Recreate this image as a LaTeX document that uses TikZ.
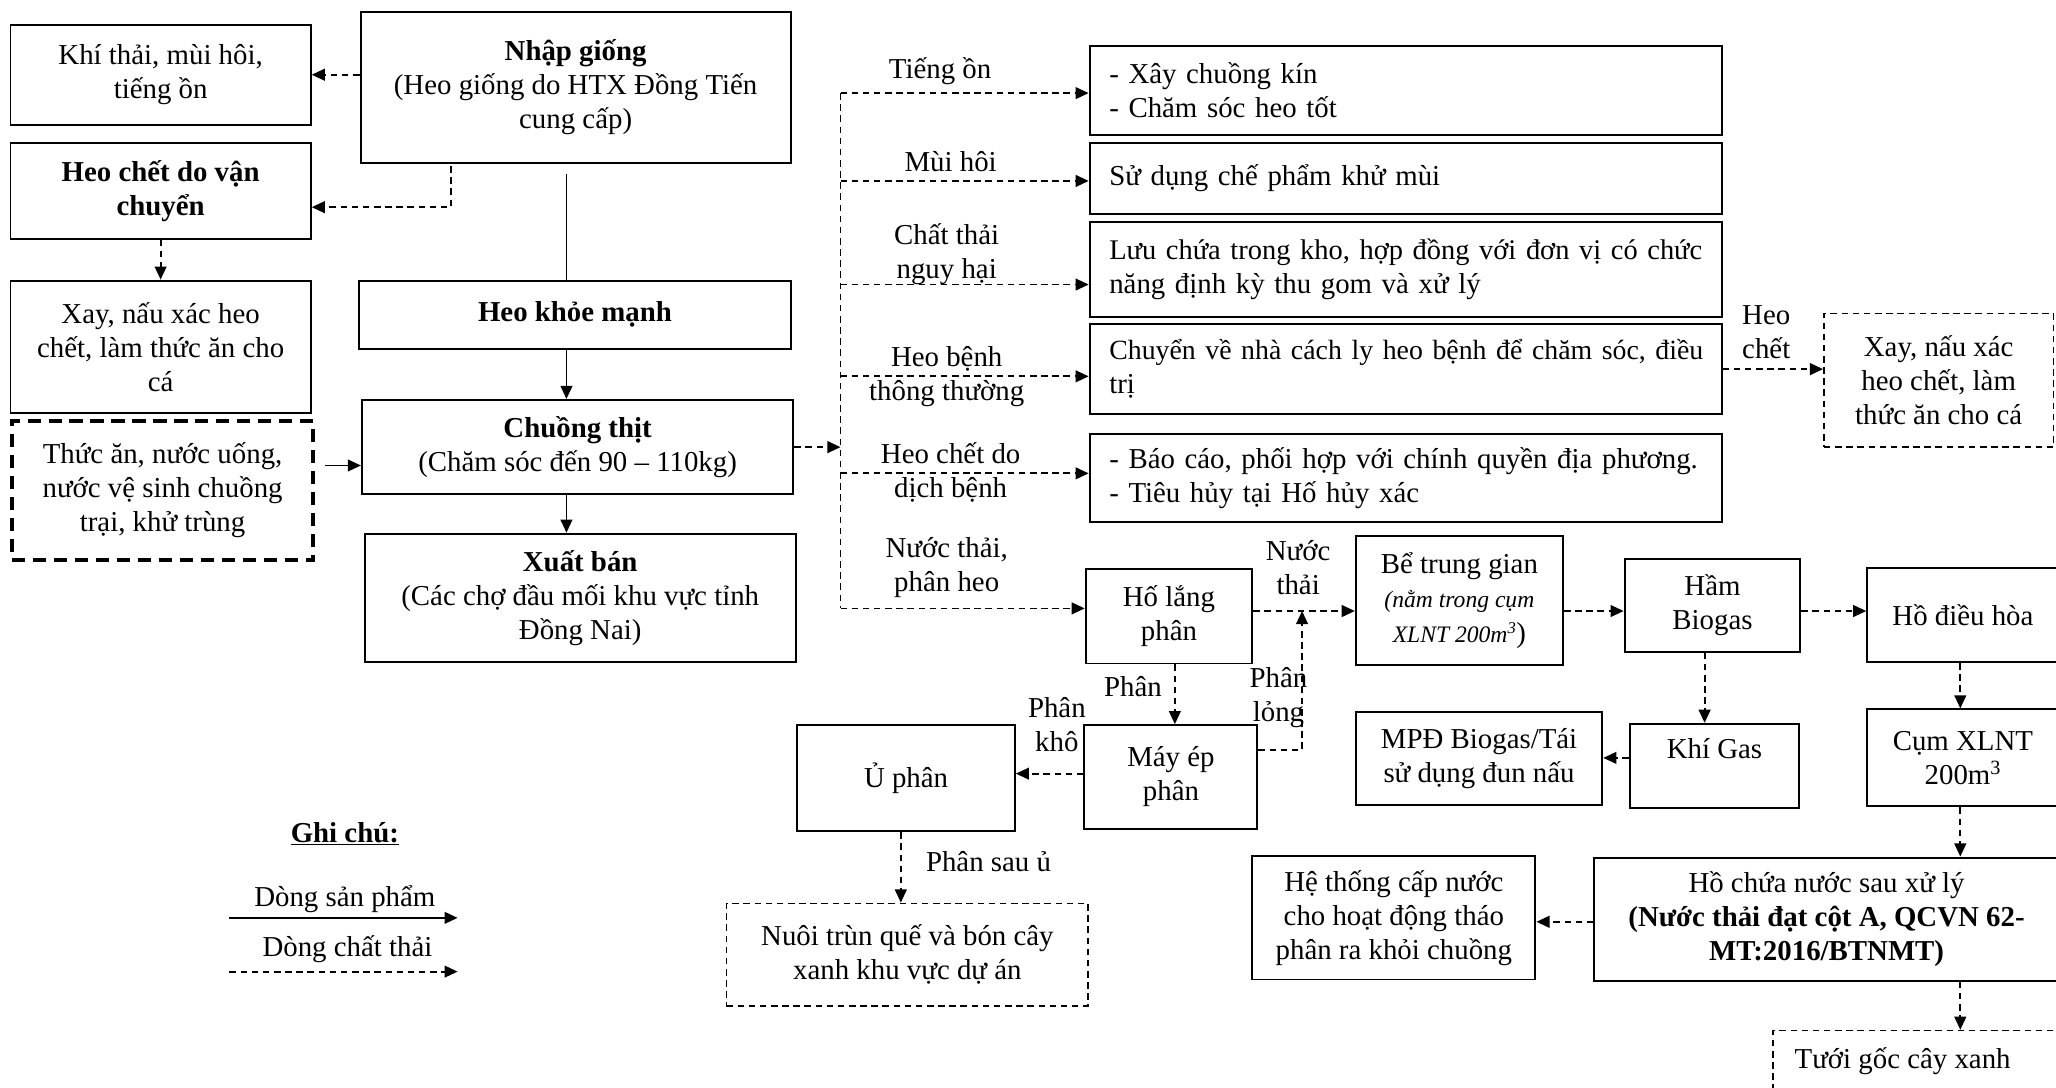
\documentclass[tikz,border=0pt]{standalone}
\usepackage{fontspec}
\setmainfont{Liberation Serif}
\usetikzlibrary{arrows.meta}
\newcommand\fsz{\fontsize{22}{26}\selectfont}
\newcommand\fsm{\fontsize{18}{26}\selectfont}
\tikzset{
  box/.style={draw, line width=1.5pt, inner sep=0pt, align=center, font=\fsz},
  lbox/.style={box, align=left, text width=452pt, inner xsep=15pt},
  dbox/.style={box, line width=1.3pt, dash pattern=on 5pt off 3.5pt},
  tdbox/.style={box, line width=3pt, dash pattern=on 10pt off 6pt},
  conn/.style={line width=1.35pt},
  prod/.style={conn, -{Triangle[length=10pt,width=9pt]}},
  waste/.style={prod, dash pattern=on 5pt off 3.5pt},
  wline/.style={conn, dash pattern=on 5pt off 3.5pt},
  lbl/.style={align=center, inner sep=0pt, font=\fsz},
}
\begin{document}
\begin{tikzpicture}[x=1pt,y=-1pt]
\useasboundingbox (0,0) rectangle (1568,829);
\clip (0,0) rectangle (1568,829);
\fill[white] (0,0) rectangle (1568,829);

% left column
\node[box, minimum width=229pt, minimum height=76pt] (k1) at (122.5,57) {Khí thải, mùi hôi,\\tiếng ồn};
\node[box, minimum width=229pt, minimum height=73pt, font=\fsz\bfseries] (k2) at (122.5,145.5) {Heo chết do vận\\chuyển};
\node[box, minimum width=229pt, minimum height=101pt] (k3) at (122.5,264.5) {Xay, nấu xác heo\\chết, làm thức ăn cho\\cá};
\node[tdbox, minimum width=230pt, minimum height=106pt] (k4) at (124,374) {Thức ăn, nước uống,\\nước vệ sinh chuồng\\trại, khử trùng};

% middle column
\node[box, minimum width=328pt, minimum height=114.5pt] (nhap) at (439,66.75) {\textbf{Nhập giống}\\(Heo giống do HTX Đồng Tiến\\cung cấp)};
\node[box, minimum width=329pt, minimum height=52pt] (khoe) at (438.5,240) {\textbf{Heo khỏe mạnh}};
\node[box, minimum width=329pt, minimum height=72pt] (chuong) at (440.5,341) {\textbf{Chuồng thịt}\\(Chăm sóc đến 90 – 110kg)};
\node[box, minimum width=329pt, minimum height=98pt] (xuat) at (442.5,456) {\textbf{Xuất bán}\\(Các chợ đầu mối khu vực tỉnh\\Đồng Nai)};

% right boxes
\node[lbox, minimum height=68pt] (A) at (1072,69) {- Xây chuồng kín\\- Chăm sóc heo tốt};
\node[lbox, minimum height=54pt] (B) at (1072,136) {Sử dụng chế phẩm khử mùi};
\node[lbox, minimum height=73pt] (C) at (1072,205.5) {\mbox{\fontsize{21.7}{26}\selectfont Lưu chứa trong kho, hợp đồng với đơn vị có chức}\\năng định kỳ thu gom và xử lý};
\node[lbox, minimum height=69pt] (D) at (1072,281.5) {\mbox{\fontsize{21.2}{26}\selectfont Chuyển về nhà cách ly heo bệnh để chăm sóc, điều}\\trị};
\node[lbox, minimum height=67pt] (E) at (1072,364.5) {\mbox{- Báo cáo, phối hợp với chính quyền địa phương.}\\- Tiêu hủy tại Hố hủy xác};
\node[dbox, minimum width=175pt, minimum height=102pt] (G) at (1478.5,290) {Xay, nấu xác\\heo chết, làm\\thức ăn cho cá};

% lower part
\node[box, minimum width=127pt, minimum height=72pt] (holang) at (891.5,470) {Hố lắng\\phân};
\node[box, minimum width=158pt, minimum height=98pt] (be) at (1113,458) {Bể trung gian\\{\fsm\itshape(nằm trong cụm}\\{\fsm\itshape XLNT 200m\textsuperscript{3}})};
\node[box, minimum width=134pt, minimum height=71pt] (ham) at (1306,461.5) {Hầm\\Biogas};
\node[box, minimum width=146pt, minimum height=72pt] (hdh) at (1497,469) {Hồ điều hòa};
\node[box, minimum width=146pt, minimum height=74pt] (cum) at (1497,578) {Cụm XLNT\\200m\textsuperscript{3}};
\node[box, minimum width=354pt, minimum height=94pt] (hochua) at (1393,701) {Hồ chứa nước sau xử lý\\\textbf{(Nước thải đạt cột A, QCVN 62-}\\\textbf{MT:2016/BTNMT)}};
\node[dbox, minimum width=220pt, minimum height=46pt] (tuoi) at (1462,809) {Tưới gốc cây xanh\hspace{22pt}};
\node[box, minimum width=216pt, minimum height=94pt] (heth) at (1063,700) {Hệ thống cấp nước\\cho hoạt động tháo\\phân ra khỏi chuồng};
\node[box, minimum width=129pt, minimum height=64pt] (khi) at (1307.5,584) {Khí Gas\\\mbox{}};
\node[box, minimum width=188pt, minimum height=71pt] (mpd) at (1128,578.5) {MPĐ Biogas/Tái\\sử dụng đun nấu};
\node[box, minimum width=132pt, minimum height=79pt] (mayep) at (893,592.5) {Máy ép\\phân};
\node[box, minimum width=166pt, minimum height=81pt] (uphan) at (691,593.5) {Ủ phân};
\node[dbox, minimum width=276pt, minimum height=78pt] (nuoi) at (692,728) {Nuôi trùn quế và bón cây\\xanh khu vực dự án};

% left/middle connectors
\draw[waste] (nhap.west |- k1.east) -- (k1.east);
\draw[waste] ([xshift=-95pt,yshift=-2pt]nhap.south) |- ([yshift=-12.5pt]k2.east);
\draw[waste] (k2.south) -- (k3.north);
\draw[conn] ([xshift=-7pt,yshift=-8pt]nhap.south) -- ([xshift=-6.5pt]khoe.north);
\draw[prod] ([xshift=-6.5pt]khoe.south) -- ([xshift=-6.5pt]khoe.south |- chuong.north);
\draw[prod] ([xshift=-8.5pt]chuong.south) -- ([xshift=-8.5pt]chuong.south |- xuat.north);
\draw[prod] ([xshift=7pt,yshift=-14pt]k4.east |- chuong.west) -- ([yshift=-14pt]chuong.west);

% bus
\coordinate (busT) at (641,71);
\coordinate (busB) at (641,464);
\draw[wline] (busT) -- (busB);
\draw[waste] (chuong.east) -- (chuong.east -| busT);
\draw[waste] (busT) -- (busT -| A.west);
\draw[waste] ([yshift=-2pt]B.west -| busT) -- ([yshift=-2pt]B.west);
\draw[waste] ([yshift=-11.5pt]C.west -| busT) -- ([yshift=-11.5pt]C.west);
\draw[waste] ([yshift=-5.5pt]D.west -| busT) -- ([yshift=-5.5pt]D.west);
\draw[waste] ([yshift=3.5pt]E.west -| busT) -- ([yshift=3.5pt]E.west);
\draw[waste] (busB) -- (busB -| holang.west);
\draw[waste] (D.east) -- (D.east -| G.west);

% treatment chain
\coordinate (hb) at ([yshift=4pt]holang.east);
\draw[waste] (hb) -- (hb -| be.west);
\draw[waste] ([yshift=-8pt]be.east) -- ([yshift=-8pt]be.east -| ham.west);
\draw[waste] ([yshift=-4.5pt]ham.east) -- ([yshift=-4.5pt]ham.east -| hdh.west);
\draw[waste] ([xshift=-2pt]hdh.south) -- ([xshift=-2pt]cum.north);
\draw[waste] ([xshift=-2pt]cum.south) -- ([xshift=-2pt]cum.south |- hochua.north);
\draw[waste] ([xshift=102pt]hochua.south) -- ([xshift=102pt]hochua.south |- tuoi.north);
\draw[waste] ([yshift=-2pt]hochua.west) -- ([yshift=-2pt]hochua.west -| heth.east);
\draw[waste] ([xshift=-6pt]ham.south) -- ([xshift=-6pt]ham.south |- khi.north);
\draw[waste] ([yshift=6pt]khi.west) -- ([yshift=6pt]khi.west -| mpd.east);
\draw[waste] ([xshift=4.5pt]holang.south) -- ([xshift=4.5pt]holang.south |- mayep.north);
\coordinate (plx) at (993,572);
\draw[waste] ([yshift=20.5pt]mayep.east) -- (plx) -- (plx |- hb);
\draw[waste] ([yshift=2.5pt]mayep.west) -- ([yshift=2.5pt]mayep.west -| uphan.east);
\draw[waste] ([xshift=-4pt]uphan.south) -- ([xshift=-4pt]uphan.south |- nuoi.north);

% labels
\node[lbl] (t1) at (717,54) {Tiếng ồn};
\node[lbl] (t2) at (725,123) {Mùi hôi};
\node[lbl] (t3) at (722,194) {Chất thải\\nguy hại};
\node[lbl] (t4) at (722,287.5) {Heo bệnh\\thông thường};
\node[lbl] (t5) at (725,360.5) {Heo chết do\\dịch bệnh};
\node[lbl] (t6) at (722,432.5) {Nước thải,\\phân heo};
\node[lbl] (t7) at (1347,253.5) {Heo\\chết};
\node[lbl] (t8) at (990,433) {Nước\\thải};
\node[lbl] (t9) at (864,524) {Phân};
\node[lbl] (t10) at (975,532) {Phân\\lỏng};
\node[lbl] (t11) at (806,552.5) {Phân\\khô};
\node[lbl, anchor=west] (t12) at (706,657) {Phân sau ủ};

% legend
\node[lbl, font=\fsz\bfseries] (gc) at (263,636) {\underline{Ghi chú:}};
\coordinate (l1a) at (175,700);
\coordinate (l1b) at (349,700);
\draw[prod] (l1a) -- (l1b);
\node[lbl] (lsp) at (263,686) {Dòng sản phẩm};
\coordinate (l2a) at (175,741);
\coordinate (l2b) at (349,741);
\draw[waste] (l2a) -- (l2b);
\node[lbl] (lct) at (265,724) {Dòng chất thải};
\end{tikzpicture}
\end{document}
